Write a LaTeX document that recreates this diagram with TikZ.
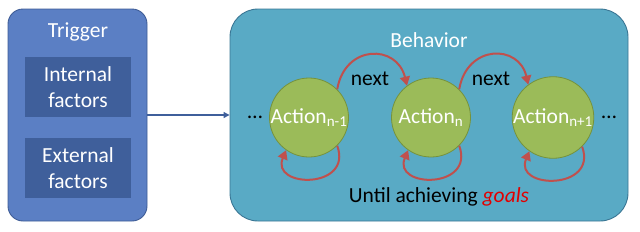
\documentclass[tikz,border=0pt]{standalone}
\usepackage{fontspec}
\setmainfont{Carlito}
\usepackage{tikz}
\usetikzlibrary{arrows.meta,positioning}
\definecolor{triggerfill}{RGB}{91,127,196}
\definecolor{triggerline}{RGB}{62,92,150}
\definecolor{factorfill}{RGB}{63,95,155}
\definecolor{behaviorfill}{RGB}{89,170,197}
\definecolor{behaviorline}{RGB}{58,118,148}
\definecolor{actionfill}{RGB}{155,187,89}
\definecolor{actionline}{RGB}{118,146,60}
\definecolor{looparrow}{RGB}{192,80,77}
\definecolor{goalred}{RGB}{226,0,0}

\begin{document}
\begin{tikzpicture}[x=1pt, y=-1pt, font=\fontsize{21.5}{26}\selectfont,
    box/.style={draw=triggerline, fill=triggerfill, line width=0.9pt, rounded corners=15pt,
      minimum width=139pt, minimum height=212pt, inner sep=0pt},
    factor/.style={fill=factorfill, text=white, align=center, minimum width=106pt,
      minimum height=60pt, inner sep=0pt},
    action/.style={circle, draw=actionline, fill=actionfill, line width=0.8pt, text=white,
      minimum size=79pt, inner sep=0pt},
    flow/.style={looparrow, line width=2pt, -{Triangle[length=9pt, width=10pt]}}]
    \useasboundingbox (0,0) rectangle (640,231);
    % trigger side
    \node[box] (trigger) at (77.5,115) {};
    \node[text=white] (triggertitle) at (78,32) {Trigger};
    \node[factor] (internal) at (78,87) {Internal\\factors};
    \node[factor] (external) at (78,168) {External\\factors};
    % behavior side
    \node[box, draw=behaviorline, fill=behaviorfill, rounded corners=28pt,
      minimum width=398pt] (behavior) at (429,115) {};
    \node[text=white] (behaviortitle) at (429,40) {Behavior};
    \draw[factorfill, line width=1.2pt, -{Triangle[length=6pt, width=6pt]}]
      (trigger.east) -- (behavior.west);
    \node[action] (prev) at (309,117.5) {Action\textsubscript{n-1}};
    \node[action] (curr) at (431,117.5) {Action\textsubscript{n}};
    \node[action] (succ) at (553,117.5) {Action\textsubscript{n+1}};
    \node (dotsleft) at (255,117) {\ldots};
    \node (dotsright) at (609,117) {\ldots};
    % next steps
    \draw[flow] (prev.45) .. controls (345,44) and (397,44) .. (curr.127);
    \draw[flow] (curr.45) .. controls (467,44) and (519,44) .. (succ.127);
    \node (nextone) at (370,79) {next};
    \node (nexttwo) at (491,79) {next};
    % repeat loops
    \foreach \a in {prev,curr,succ} {
      \draw[flow] (\a.-45) .. controls ([shift={(16,44)}]\a.-45) and ([shift={(-16,38)}]\a.-125) .. (\a.-125);
    }
    \node (until) at (439,197) {Until achieving \textcolor{goalred}{\textit{goals}}};
  \end{tikzpicture}
\end{document}
